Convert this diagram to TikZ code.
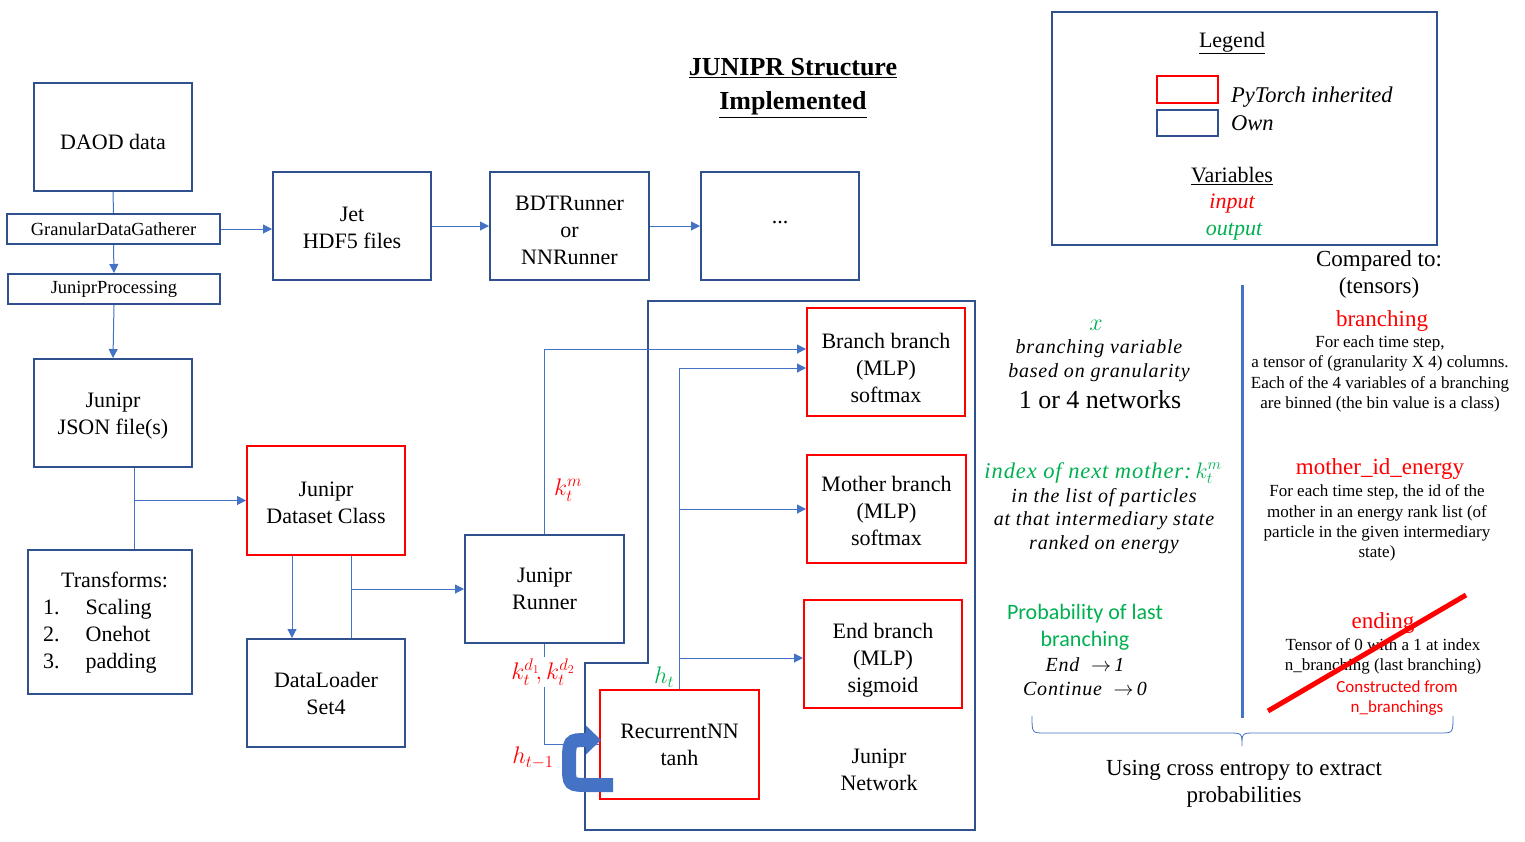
\RequirePackage{fix-cm}
\documentclass[tikz,border=0pt]{standalone}
\usepackage{fontspec}
\setmainfont{Liberation Serif}
\newfontfamily\calib{Carlito}
\newfontfamily\itsp[LetterSpace=4]{Liberation Serif Italic}
\usetikzlibrary{arrows.meta,calc}
\definecolor{ownblue}{HTML}{2F528F}
\definecolor{connblue}{HTML}{4472C4}
\definecolor{torchred}{HTML}{FF0000}
\definecolor{outgreen}{HTML}{00B050}
\newcommand\szmain{\fontsize{22}{27}\selectfont}
\newcommand\szlab{\fontsize{24}{28}\selectfont}
\newcommand\szgdg{\fontsize{18.5}{22}\selectfont}
\newcommand\szbody{\fontsize{17}{20.3}\selectfont}
\newcommand\szhead{\fontsize{23}{27}\selectfont}
\newcommand\szmth{\fontsize{20}{23.7}\selectfont}
\newcommand\sztitle{\fontsize{26}{34}\selectfont\bfseries}
\newcommand\lw[1]{\rule{0pt}{#1}}
\begin{document}
\begin{tikzpicture}[x=1pt,y=-1pt,
  own/.style={draw=ownblue,line width=2pt,inner sep=0pt,align=center,font=\szmain},
  torch/.style={draw=torchred,line width=2pt,inner sep=0pt,align=center,font=\szmain},
  big/.style={minimum width=158pt,minimum height=108pt},
  conn/.style={draw=connblue,line width=1pt},
  arr/.style={conn,-{Triangle[length=9pt,width=9pt]}},
  txt/.style={inner sep=0pt,align=center},
]
\useasboundingbox (0,0) rectangle (1525,841);

% network container
\draw[ownblue,line width=2pt] (648,301) -- (975,301) -- (975,830) -- (585,830) -- (585,663) -- (648,663) -- cycle;

% title
\node[txt,font=\sztitle] (title) at (793,88) {\underline{JUNIPR Structure}\\\underline{Implemented}};

% left column
\node[own,big] (dd) at (113,137) {\lw{25pt}DAOD data};
\node[own,minimum width=213pt,minimum height=30pt,font=\szgdg] (gdg) at (113.5,229) {GranularDataGatherer};
\node[own,minimum width=212pt,minimum height=30pt,font=\szgdg] (jp) at (114,289) {JuniprProcessing};
\node[own,big] (json) at (113,413) {\lw{21pt}Junipr\\JSON file(s)};
\node[own,minimum width=164pt,minimum height=144pt] (tr) at (110,622) {};
\node[txt,anchor=west,font=\szmain] (trtext) at (43,623) {%
  \begin{tabular}{@{}l@{\hspace{26pt}}l@{}}
  \multicolumn{2}{@{\hspace{18pt}}l}{Transforms:}\\
  1. & Scaling\\
  2. & Onehot\\
  3. & padding
  \end{tabular}};
\node[torch,big,minimum height=109pt] (ds) at (326,500.5) {\lw{19pt}Junipr\\Dataset Class};
\node[own,big] (dl) at (326,693) {DataLoader\\Set4};

% top row
\node[own,big] (jet) at (352,226) {\lw{18.5pt}Jet\\HDF5 files};
\node[own,big,minimum width=159pt] (bdt) at (569.5,226) {\lw{22.5pt}BDTRunner\\or\\NNRunner};
\node[own,big] (dots) at (780,226) {\raisebox{8pt}{...}};

% runner and network
\node[own,big,minimum width=159pt] (runner) at (544.5,589) {Junipr\\Runner};
\node[torch,big] (bb) at (886,362) {\lw{27pt}Branch branch\\(MLP)\\softmax};
\node[torch,big,minimum width=159pt] (mb) at (886.5,509) {\lw{19pt}Mother branch\\(MLP)\\softmax};
\node[torch,big] (eb) at (883,654) {\lw{27pt}End branch\\(MLP)\\sigmoid};
\node[torch,big,minimum width=159pt,minimum height=109pt] (rnn) at (679.5,744.5) {RecurrentNN\\tanh};
\node[txt,font=\szmain] (netlabel) at (879,770) {Junipr\\Network};

% connectors left
\draw[conn] (dd.south) -- (gdg.north);
\draw[arr] (gdg.south) -- (jp.north);
\draw[arr] (gdg.east) -- (gdg.east -| jet.west);
\draw[arr] (jp.south) -- (json.north);
\coordinate (jb) at ([xshift=21pt]json.south);
\draw[conn] (jb) -- (jb |- tr.north);
\draw[arr] (jb |- ds.west) -- (ds.west);
\coordinate (d1) at ([xshift=-34pt]ds.south);
\coordinate (d2) at ([xshift=25pt]ds.south);
\draw[arr] (d1) -- (d1 |- dl.north);
\draw[conn] (d2) -- (d2 |- dl.north);
\draw[arr] (d2 |- runner.west) -- (runner.west);
\draw[arr] (jet.east) -- (bdt.west);
\draw[arr] (bdt.east) -- (dots.west);

% connectors network
\draw[arr] (runner.north) |- ([yshift=13pt]bb.west);
\draw[arr] (rnn.north) |- ([yshift=-6pt]bb.west);
\draw[arr] (rnn.north |- mb.west) -- (mb.west);
\draw[arr] ([yshift=-4pt]rnn.north |- eb.west) -- ([yshift=-4pt]eb.west);
\draw[conn] (runner.south) |- (rnn.west);

% labels on connectors
\node[txt,text=torchred,font=\szlab] (km) at (568,490) {$k_t^m$};
\node[txt,text=torchred,font=\szlab,fill=white,inner sep=2pt] (kd) at (543,672) {$k_t^{d_1}\!,k_t^{d_2}$};
\node[txt,text=outgreen,font=\szlab] (ht) at (664,677) {$h_t$};
\node[txt,text=torchred,font=\szlab] (htm) at (533,758) {$h_{t-1}$};

% recurrent U-arrow
\draw[connblue,line width=14pt,-{Triangle[length=15pt,width=28pt]}]
  (613,785) -- (590,785) .. controls (569,785) .. (569,765) .. controls (569,740) .. (601,740);

% legend
\node[draw=ownblue,line width=2pt,minimum width=385pt,minimum height=233pt] (leg) at (1244.5,128.5) {};
\node[txt,font=\szmain] (legt) at (1232,43) {\underline{Legend}};
\node[draw=torchred,line width=2pt,minimum width=61pt,minimum height=27pt,inner sep=0pt] (lr) at (1187.5,89.5) {};
\node[draw=ownblue,line width=2pt,minimum width=61pt,minimum height=26pt,inner sep=0pt] (lb) at (1187.5,123) {};
\node[txt,anchor=west,font=\fontsize{22.5}{27}\selectfont\itshape] (lrt) at (1231,97) {PyTorch inherited};
\node[txt,anchor=west,font=\fontsize{22.5}{27}\selectfont\itshape] (lbt) at (1231,123) {Own};
\node[txt,font=\szmain] (vart) at (1232,176) {\underline{Variables}};
\node[txt,font=\szmain\itshape,text=torchred] (inpt) at (1232,204) {input};
\node[txt,font=\szmain\itshape,text=outgreen] (outt) at (1234,232) {output};

% right side
\node[txt,font=\szhead] (cmp) at (1379,274.5) {Compared to:\\(tensors)};
\draw[connblue,line width=3pt] (1242,285) -- (1242,718);

\node[txt,font=\szlab,text=outgreen] (xv) at (1096,325) {$x$};
\node[txt,font=\szmth\itsp] (bv) at (1099,361) {branching variable\\based on granularity};
\node[txt,font=\fontsize{26}{30}\selectfont] (net14) at (1100,400) {1 or 4 networks};

\node[txt,font=\fontsize{22.5}{26}\selectfont\itsp,text=outgreen] (idx) at (1103,473) {index of next mother:\,$k_t^m$};
\node[txt,font=\szmth\itsp] (idxb) at (1104,521) {in the list of particles\\at that intermediary state\\ranked on energy};

\node[txt,font=\calib\fontsize{22}{27}\selectfont,text=outgreen] (prob) at (1085,627.5) {Probability of last\\branching};
\node[txt,font=\szmth\itsp] (endc) at (1085,677) {End\ \ $\rightarrow$\,1\\Continue\ \ $\rightarrow$\,0};

\node[txt,font=\szhead,text=torchred] (brh) at (1382,321) {branching};
\node[txt,font=\szbody] (brb) at (1380,374) {For each time step,\\a tensor of (granularity X 4) columns.\\Each of the 4 variables of a branching\\are binned (the bin value is a class)};

\node[txt,font=\szhead,text=torchred] (moh) at (1380,469) {mother\_id\_energy};
\node[txt,font=\szbody] (mob) at (1377,523) {For each time step, the id of the\\mother in an energy rank list (of\\particle in the given intermediary\\state)};

\node[txt,font=\szhead,text=torchred] (enh) at (1383,623) {ending};
\node[txt,font=\szbody] (enb) at (1383,656) {Tensor of 0 with a 1 at index\\n\_branching (last branching)};
\node[txt,font=\calib\fontsize{17}{20.3}\selectfont,text=torchred] (enc) at (1397,698) {Constructed from\\n\_branchings};
\draw[torchred,line width=5pt] (1268,711) -- (1466,595);

\draw[connblue,line width=0.8pt] (1032,716) .. controls (1032,733) .. (1045,733) -- (1229,733) .. controls (1242,733) .. (1242,746) .. controls (1242,733) .. (1255,733) -- (1440,733) .. controls (1453,733) .. (1453,716);
\node[txt,font=\szhead] (ce) at (1244,784) {Using cross entropy to extract\\probabilities};
\end{tikzpicture}
\end{document}
